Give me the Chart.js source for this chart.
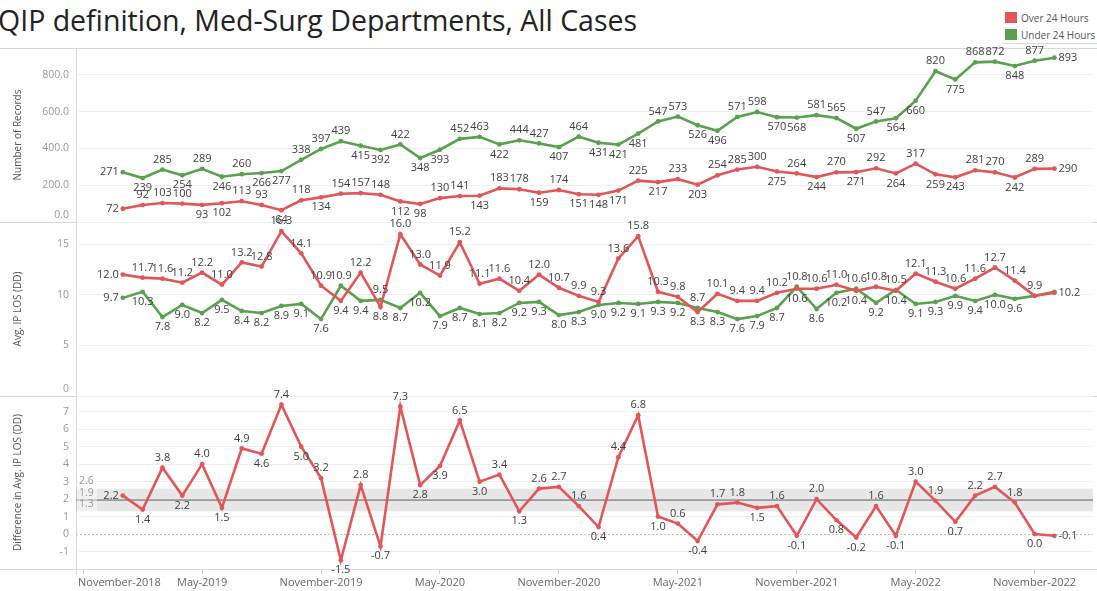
<!DOCTYPE html>
<html>
<head>
<meta charset="utf-8">
<script src="https://cdn.jsdelivr.net/npm/chart.js@4.4.1/dist/chart.umd.min.js"></script>
<style>
html,body{margin:0;padding:0;background:#fff;}
body{width:1097px;height:591px;position:relative;overflow:hidden;font-family:"Open Sans",sans-serif;}
#title{position:absolute;left:-2px;top:6px;font-size:28.5px;line-height:28px;color:#222;white-space:nowrap;}
.sw{position:absolute;left:1005px;width:12px;height:11px;}
.lt{position:absolute;left:1021px;font-size:10px;line-height:12px;color:#555;white-space:nowrap;}
.hl{position:absolute;left:0;width:1097px;height:1px;background:#d9d9d9;}
#vline{position:absolute;left:76px;top:48px;width:1px;height:527px;background:#d9d9d9;}
canvas{position:absolute;left:0;}
</style>
</head>
<body>
<div id="title">QIP definition, Med-Surg Departments, All Cases</div>
<div class="sw" style="top:12px;background:#e15759"></div>
<div class="lt" style="top:12px">Over 24 Hours</div>
<div class="sw" style="top:29px;background:#59a14f"></div>
<div class="lt" style="top:29px">Under 24 Hours</div>
<div style="position:absolute;left:1003px;top:43px;width:94px;height:1px;background:#d9d9d9"></div>
<div class="hl" style="top:48px"></div>
<div class="hl" style="top:222px"></div>
<div class="hl" style="top:396px"></div>
<div class="hl" style="top:569px"></div>
<div id="vline"></div>
<canvas id="c1" width="1097" height="200" style="top:30px"></canvas>
<canvas id="c2" width="1097" height="196" style="top:210px"></canvas>
<canvas id="c3" width="1097" height="207" style="top:384px"></canvas>
<script>
// ---------------- data ----------------
const months = [
  "January-2019","February-2019","March-2019","April-2019","May-2019","June-2019","July-2019","August-2019","September-2019","October-2019","November-2019","December-2019",
  "January-2020","February-2020","March-2020","April-2020","May-2020","June-2020","July-2020","August-2020","September-2020","October-2020","November-2020","December-2020",
  "January-2021","February-2021","March-2021","April-2021","May-2021","June-2021","July-2021","August-2021","September-2021","October-2021","November-2021","December-2021",
  "January-2022","February-2022","March-2022","April-2022","May-2022","June-2022","July-2022","August-2022","September-2022","October-2022","November-2022","December-2022"
];
const xTickLabels = ["November-2018","May-2019","November-2019","May-2020","November-2020","May-2021","November-2021","May-2022","November-2022"];

const seriesNames = ["Over 24 Hours","Under 24 Hours"];

const recordsOver = [72,92,103,100,93,102,113,93,64,118,134,154,157,148,112,98,130,141,143,183,178,159,174,151,148,171,225,217,233,203,254,285,300,275,264,244,270,271,292,264,317,259,243,281,270,242,289,290];
const recordsUnder = [271,239,285,254,289,246,260,266,277,338,397,439,415,392,422,348,393,452,463,422,444,427,407,464,431,421,481,547,573,526,496,571,598,570,568,581,565,507,547,564,660,820,775,868,872,848,877,893];

const losOver = [12.0,11.7,11.6,11.2,12.2,11.0,13.2,12.8,16.3,14.1,10.9,9.4,12.2,8.8,16.0,13.0,11.9,15.2,11.1,11.6,10.4,12.0,10.7,9.9,9.3,13.6,15.8,10.3,9.8,8.3,10.1,9.4,9.4,10.2,10.6,10.6,11.0,10.4,10.8,10.4,12.1,11.3,10.6,11.6,12.7,11.4,9.9,10.2];
const losUnder = [9.7,10.3,7.8,9.0,8.2,9.5,8.4,8.2,8.9,9.1,7.6,10.9,9.4,9.5,8.7,10.2,7.9,8.7,8.1,8.2,9.2,9.3,8.0,8.3,9.0,9.2,9.1,9.3,9.2,8.7,8.3,7.6,7.9,8.7,10.8,8.6,10.2,10.6,9.2,10.5,9.1,9.3,9.9,9.4,10.0,9.6,9.9,10.3];

const losDiff = [2.2,1.4,3.8,2.2,4.0,1.5,4.9,4.6,7.4,5.0,3.2,-1.5,2.8,-0.7,7.3,2.8,3.9,6.5,3.0,3.4,1.3,2.6,2.7,1.6,0.4,4.4,6.8,1.0,0.6,-0.4,1.7,1.8,1.5,1.6,-0.1,2.0,0.8,-0.2,1.6,-0.1,3.0,1.9,0.7,2.2,2.7,1.8,0.0,-0.1];
const diffBand = [1.3, 1.94, 2.6]; // lower, average, upper

const recordTicks = [0,200,400,600,800];
const losTicks = [0,5,10,15];
const diffTicks = [-1,0,1,2,3,4,5,6,7];

// ---------------- helpers ----------------
const RED = '#e15759', GREEN = '#59a14f';
const FONT = '"Open Sans", sans-serif';
const monthNames = ["January","February","March","April","May","June","July","August","September","October","November","December"];
function monthIndex(label){ const p = label.split('-'); return (Number(p[1]) - 2019) * 12 + monthNames.indexOf(p[0]); }
function toPoints(vals){ return months.map((m, i) => ({x: monthIndex(m), y: vals[i]})); }

const X_MIN = -2.362, X_MAX = 48.945;

function makeLabelPlugin(fmt, placeFn){
  return {
    id: 'pointLabels',
    afterDatasetsDraw(chart){
      const ctx = chart.ctx;
      const placed = [];
      ctx.save();
      ctx.font = '11px ' + FONT;
      ctx.fillStyle = '#404040';
      ctx.textBaseline = 'middle';
      ctx.textAlign = 'center';
      chart.data.datasets.forEach((ds, di) => {
        const meta = chart.getDatasetMeta(di);
        const n = ds.data.length;
        meta.data.forEach((pt, i) => {
          const v = ds.data[i].y;
          const text = fmt(v);
          const w = ctx.measureText(text).width;
          const h = 11;
          let pos;
          if (i === 0) pos = 'left';
          else if (i === n - 1) pos = 'right';
          else pos = placeFn(chart, di, i);
          let cx = pt.x, cy = pt.y;
          if (pos === 'left') cx = pt.x - 4 - w / 2;
          else if (pos === 'right') cx = pt.x + 4 + w / 2;
          else cy = pt.y + (pos === 'above' ? -10 : 10);
          const box = {l: cx - w / 2, r: cx + w / 2, t: cy - h / 2, b: cy + h / 2};
          const clash = placed.some(p => (Math.min(p.r, box.r) - Math.max(p.l, box.l)) > 7 && (Math.min(p.b, box.b) - Math.max(p.t, box.t)) > 5);
          if (clash) return;
          placed.push(box);
          ctx.fillText(text, cx, cy);
        });
      });
      ctx.restore();
    }
  };
}
function convexPlace(chart, di, i){
  const d = chart.data.datasets[di].data;
  const prev = d[i - 1].y, next = d[i + 1].y, v = d[i].y;
  return v >= (prev + next) / 2 ? 'above' : 'below';
}
function pairPlace(chart, di, i){
  const own = chart.data.datasets[di].data[i].y;
  const other = chart.data.datasets[1 - di].data[i].y;
  return own >= other ? 'above' : 'below';
}

// axis tick labels kept inside each panel (Tableau-style clamping)
function makeAxisLabelPlugin(yFmt){
  return {
    id: 'axisLabels',
    afterDraw(chart){
      const ctx = chart.ctx, a = chart.chartArea;
      ctx.save();
      ctx.font = '10.5px ' + FONT; ctx.fillStyle = '#9a9a9a';
      ctx.textAlign = 'right'; ctx.textBaseline = 'middle';
      const ys = chart.scales.y;
      ys.ticks.forEach(t => {
        let py = ys.getPixelForValue(t.value);
        py = Math.min(Math.max(py, a.top + 7), a.bottom - 7);
        ctx.fillText(yFmt(t.value), a.left - 7, py);
      });
      const xs = chart.scales.x;
      if (xs.options.display) {
        ctx.font = '11px ' + FONT; ctx.fillStyle = '#666';
        ctx.textAlign = 'center'; ctx.textBaseline = 'middle';
        xTickLabels.forEach(l => {
          const w = ctx.measureText(l).width;
          let px = xs.getPixelForValue(monthIndex(l));
          px = Math.min(Math.max(px, a.left + 2 + w / 2), a.right - 2 - w / 2);
          ctx.fillText(l, px, a.bottom + 14);
        });
      }
      ctx.restore();
    }
  };
}

function lineDs(label, vals, color){
  return {
    label, data: toPoints(vals), borderColor: color, backgroundColor: color,
    borderWidth: 2.6, pointRadius: 2.4, pointBorderWidth: 0, pointBackgroundColor: color,
    tension: 0, fill: false
  };
}

function xScale(show){
  return {
    type: 'linear', min: X_MIN, max: X_MAX, display: show,
    afterBuildTicks: s => { s.ticks = xTickLabels.map(l => ({value: monthIndex(l)})); },
    afterFit: s => { s.paddingLeft = 0; s.paddingRight = 0; if (show) s.height = 22; },
    grid: {drawOnChartArea: false, drawTicks: true, tickLength: 5, color: '#cfcfcf'},
    border: {display: false},
    ticks: {display: false, autoSkip: false, maxRotation: 0, minRotation: 0}
  };
}
function yScale(min, max, tickVals, title, gridColorFn){
  return {
    type: 'linear', min, max,
    afterBuildTicks: s => { s.ticks = tickVals.map(v => ({value: v})); },
    afterFit: s => { s.width = 76; s.paddingTop = 0; s.paddingBottom = 0; },
    grid: {drawTicks: false, color: gridColorFn || '#efefef', lineWidth: 1},
    border: {display: false},
    ticks: {display: false},
    title: {display: true, text: title, color: '#555', font: {family: FONT, size: 10}, padding: {top: 12, bottom: 0}}
  };
}
const baseOpts = (pad) => ({
  responsive: false, animation: false, events: [],
  layout: {padding: pad},
  plugins: {legend: {display: false}, tooltip: {enabled: false}, title: {display: false}}
});

// ---------------- chart 1: number of records ----------------
new Chart(document.getElementById('c1'), {
  type: 'line',
  data: {datasets: [lineDs(seriesNames[0], recordsOver, RED), lineDs(seriesNames[1], recordsUnder, GREEN)]},
  options: Object.assign(baseOpts({top: 18, bottom: 8, left: 0, right: 0}), {
    scales: {
      x: xScale(false),
      y: yScale(0, 946, recordTicks, 'Number of Records')
    }
  }),
  plugins: [makeAxisLabelPlugin(v => v.toFixed(1)), makeLabelPlugin(v => String(Math.round(v)), convexPlace)]
});

// ---------------- chart 2: avg LOS ----------------
new Chart(document.getElementById('c2'), {
  type: 'line',
  data: {datasets: [lineDs(seriesNames[0], losOver, RED), lineDs(seriesNames[1], losUnder, GREEN)]},
  options: Object.assign(baseOpts({top: 12, bottom: 10, left: 0, right: 0}), {
    scales: {
      x: xScale(false),
      y: yScale(0, 17.2, losTicks, 'Avg. IP LOS (DD)')
    }
  }),
  plugins: [makeAxisLabelPlugin(v => String(v)), makeLabelPlugin(v => v.toFixed(1), pairPlace)]
});

// ---------------- chart 3: difference ----------------
const bandPlugin = {
  id: 'band',
  beforeDatasetsDraw(chart){
    const ctx = chart.ctx, y = chart.scales.y, a = chart.chartArea;
    const yLo = y.getPixelForValue(diffBand[0]), yMid = y.getPixelForValue(diffBand[1]), yHi = y.getPixelForValue(diffBand[2]);
    ctx.save();
    ctx.fillStyle = 'rgba(0,0,0,0.095)';
    ctx.fillRect(a.left, yHi, a.right - a.left, yLo - yHi);
    ctx.strokeStyle = '#9a9a9a';
    ctx.lineWidth = 1.6;
    ctx.beginPath(); ctx.moveTo(a.left, yMid); ctx.lineTo(a.right, yMid); ctx.stroke();
    const y0 = y.getPixelForValue(0);
    ctx.strokeStyle = '#bdbdbd'; ctx.lineWidth = 1; ctx.setLineDash([2, 2]);
    ctx.beginPath(); ctx.moveTo(a.left, y0 + 0.5); ctx.lineTo(a.right, y0 + 0.5); ctx.stroke();
    ctx.setLineDash([]);
    ctx.fillStyle = 'rgba(255,255,255,0.45)';
    ctx.fillRect(a.left + 1, yHi - 14, 20, yLo - yHi + 14);
    ctx.font = '10.5px ' + FONT;
    ctx.fillStyle = '#9a9a9a';
    ctx.textAlign = 'left'; ctx.textBaseline = 'middle';
    [[diffBand[2], yHi], [diffBand[1], yMid], [diffBand[0], yLo]].forEach(([v, py]) => {
      ctx.fillText(v.toFixed(1), a.left + 3, py - 7.5);
    });
    ctx.restore();
  }
};
new Chart(document.getElementById('c3'), {
  type: 'line',
  data: {datasets: [lineDs('Difference', losDiff, RED)]},
  options: Object.assign(baseOpts({top: 12, bottom: 0, left: 0, right: 0}), {
    scales: {
      x: xScale(true),
      y: yScale(-2.0, 7.9, diffTicks, 'Difference in Avg. IP LOS (DD)',
        c => (c.tick && c.tick.value === 0) ? 'rgba(0,0,0,0)' : '#efefef')
    }
  }),
  plugins: [bandPlugin, makeAxisLabelPlugin(v => String(v)), makeLabelPlugin(v => v.toFixed(1), convexPlace)]
});
</script>
</body>
</html>
